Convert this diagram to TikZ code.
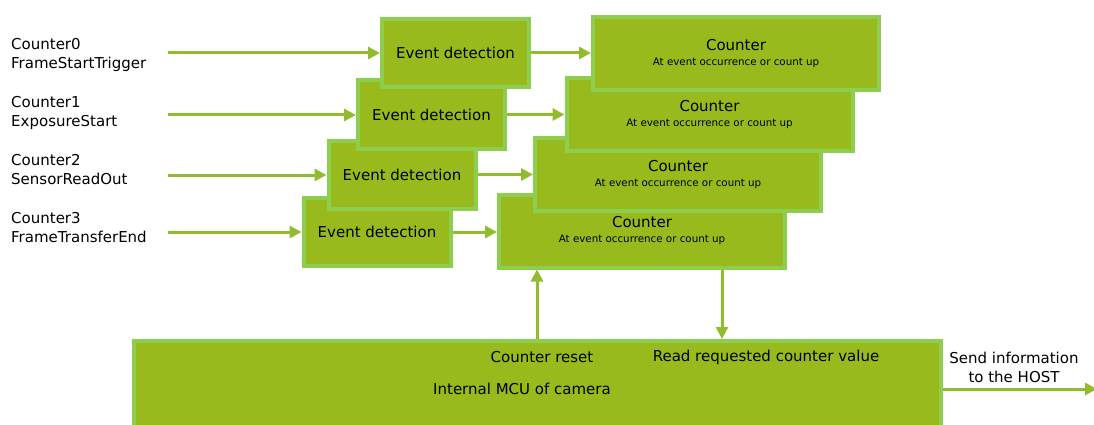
\documentclass[tikz,border=0pt]{standalone}
\usepackage{fontspec}
\setmainfont{DejaVu Sans}
\usetikzlibrary{positioning, arrows.meta, calc}

\definecolor{boxfill}{RGB}{152,186,28}
\definecolor{boxedge}{RGB}{142,206,78}
\definecolor{flowgreen}{RGB}{146,188,48}

\newcommand{\subline}[1]{{\fontsize{10.3}{12}\selectfont #1}}

\begin{document}
\begin{tikzpicture}[
    x=1pt, y=-1pt,
    >={Triangle[length=12pt, width=12pt]},
    detbox/.style={draw=boxedge, fill=boxfill, line width=4pt, minimum width=147pt, minimum height=68pt, inner sep=0pt, font=\fontsize{15}{19}\selectfont},
    cntbox/.style={draw=boxedge, fill=boxfill, line width=4pt, minimum width=286pt, minimum height=73pt, inner sep=0pt, align=center, font=\fontsize{15}{19}\selectfont},
    mcubox/.style={draw=boxedge, fill=boxfill, line width=4pt, minimum width=807pt, minimum height=117pt, inner sep=0pt},
    txt/.style={align=left, anchor=west, inner sep=0pt, font=\fontsize{15}{19}\selectfont},
    lbl/.style={align=center, inner sep=0pt, font=\fontsize{15}{19}\selectfont},
    flow/.style={->, line width=3pt, flowgreen}
]

% fixed frame of the picture
\useasboundingbox (0,0) rectangle (1094,425);

% Input signals
\node[txt] (sig0) at (11,54.5) {Counter0\\FrameStartTrigger};
\node[txt] (sig1) at (11,112.5) {Counter1\\ExposureStart};
\node[txt] (sig2) at (11,169.5) {Counter2\\SensorReadOut};
\node[txt] (sig3) at (11,227.5) {Counter3\\FrameTransferEnd};
\coordinate (in0) at (168,53);
\coordinate (in1) at (168,115);
\coordinate (in2) at (168,175);
\coordinate (in3) at (168,232);

% Counter blocks (back to front)
\node[cntbox] (cnt3) at (642,231) {Counter\\[-4pt]\subline{At event occurrence or count up}};
\node[cntbox] (cnt2) at (678,174.5) {Counter\\[-4pt]\subline{At event occurrence or count up}};
\node[cntbox] (cnt1) at (709.5,114.5) {Counter\\[-4pt]\subline{At event occurrence or count up}};
\node[cntbox] (cnt0) at (736,53.5) {Counter\\[-4pt]\subline{At event occurrence or count up}};

% Event detection blocks (back to front)
\node[detbox] (det3) at (377,232) {Event detection};
\node[detbox] (det2) at (402,174.5) {Event detection};
\node[detbox] (det1) at (431.5,114.5) {Event detection};
\node[detbox] (det0) at (455.5,53) {Event detection};

% Signal flow
\draw[flow] (in0) -- (in0 -| det0.west);
\draw[flow] (in1) -- (in1 -| det1.west);
\draw[flow] (in2) -- (in2 -| det2.west);
\draw[flow] (in3) -- (in3 -| det3.west);
\draw[flow] (det0.east) -- (det0.east -| cnt0.west);
\draw[flow] (det1.east) -- (det1.east -| cnt1.west);
\draw[flow] (det2.east) -- (det2.east -| cnt2.west);
\draw[flow] (det3.east) -- (det3.east -| cnt3.west);

% Camera MCU (runs past the lower edge)
\node[mcubox] (mcu) at (537.5,399.5) {};
\node[lbl] (reset) at (542,357) {Counter reset};
\node[lbl] (readval) at (766,357) {Read requested counter value};
\node[lbl] (mcuname) at (522,389) {Internal MCU of camera};
\node[lbl] (sendinfo) at (1014,367.5) {Send information\\to the HOST};
\coordinate (mcuout) at ([yshift=-50pt]mcu.north east);
\coordinate (host) at (1097,389);

% MCU links
\coordinate (rst) at ([xshift=40pt]cnt3.south west);
\coordinate (rdv) at ([xshift=225pt]cnt3.south west);
\draw[flow] (rst |- mcu.north) -- (rst);
\draw[flow] (rdv) -- (rdv |- mcu.north);
\draw[flow] (mcuout) -- (host);

\end{tikzpicture}
\end{document}
